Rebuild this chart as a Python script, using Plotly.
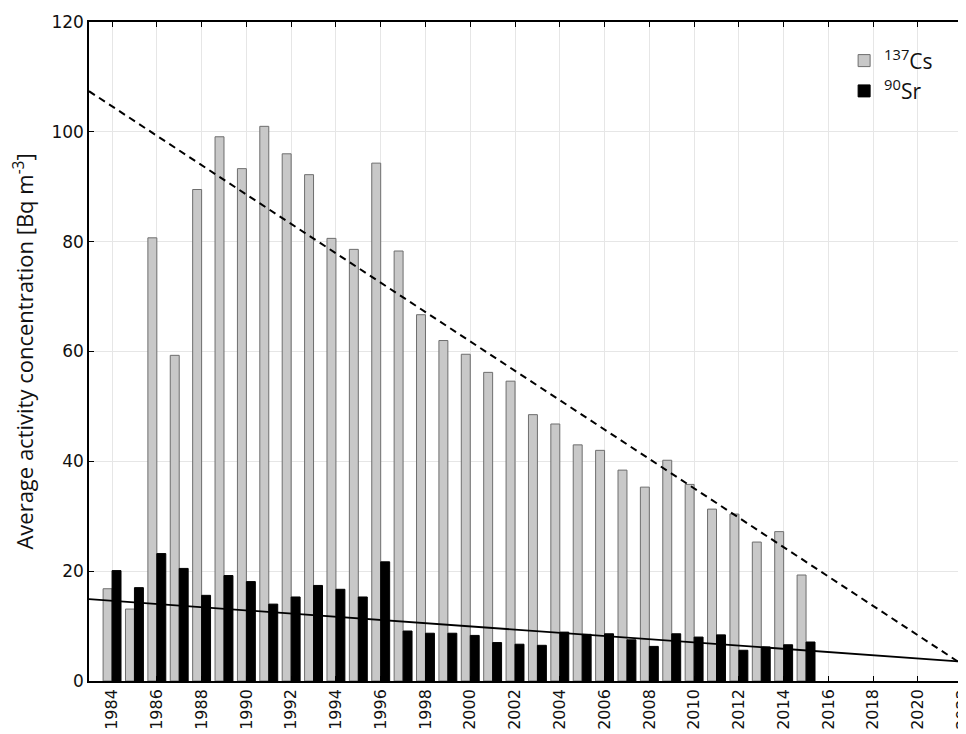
import plotly.graph_objects as go

years = list(range(1984, 2016))
cs137 = [16.8, 13.1, 80.7, 59.3, 89.5, 99.1, 93.3, 101.0, 96.0, 92.2, 80.6, 78.6,
         94.3, 78.3, 66.7, 62.0, 59.5, 56.2, 54.6, 48.5, 46.8, 43.0, 42.0, 38.4,
         35.3, 40.2, 35.8, 31.3, 30.4, 25.3, 27.2, 19.3]
sr90 = [20.1, 17.0, 23.2, 20.5, 15.6, 19.2, 18.1, 14.0, 15.3, 17.4, 16.7, 15.3,
        21.7, 9.1, 8.7, 8.7, 8.3, 7.0, 6.7, 6.5, 8.9, 8.5, 8.6, 7.5,
        6.3, 8.6, 8.0, 8.4, 5.6, 6.2, 6.6, 7.1]

trend_years = [1982.97, 2022.1]
cs_trend = [107.4, 2.7]
sr_trend = [14.9, 3.5]

tick_years = list(range(1984, 2023, 2))

fig = go.Figure()
fig.add_trace(go.Bar(x=years, y=cs137, name="<sup>137</sup>Cs",
                     marker=dict(color="#c8c8c8", line=dict(color="#6e6e6e", width=1))))
fig.add_trace(go.Bar(x=years, y=sr90, name="<sup>90</sup>Sr",
                     marker=dict(color="#000000", line=dict(color="#000000", width=1))))
fig.add_trace(go.Scatter(x=trend_years, y=cs_trend, mode="lines", showlegend=False,
                         line=dict(color="black", width=2, dash="7px,5px")))
fig.add_trace(go.Scatter(x=trend_years, y=sr_trend, mode="lines", showlegend=False,
                         line=dict(color="black", width=1.8)))

# page body has an 8px margin, so the figure is 8px smaller on each axis
fig.update_layout(
    width=958, height=726,
    margin=dict(l=81, r=1, t=14, b=53, autoexpand=False),
    paper_bgcolor="white", plot_bgcolor="white",
    barmode="group", bargap=0.2, bargroupgap=0.0,
    font=dict(family="DejaVu Sans", color="#111111", size=16),
    legend=dict(x=0.862, y=0.972, xanchor="left", yanchor="top",
                font=dict(size=21, family="Open Sans"), bgcolor="rgba(0,0,0,0)",
                tracegroupgap=0, itemwidth=30),
)
fig.update_xaxes(range=trend_years, tickmode="array", tickvals=tick_years,
                 ticktext=[str(t) for t in tick_years], tickangle=-90,
                 ticklabeloverflow="allow",
                 showgrid=True, gridcolor="#e6e6e6", gridwidth=1,
                 showline=True, linecolor="black", linewidth=1.5, mirror="ticks",
                 ticks="inside", ticklen=5, tickcolor="black",
                 tickfont=dict(size=16), zeroline=False)
fig.update_yaxes(range=[0, 120], tickmode="array", tickvals=[0, 20, 40, 60, 80, 100, 120],
                 showgrid=True, gridcolor="#e6e6e6", gridwidth=1,
                 showline=True, linecolor="black", linewidth=1.5, mirror="ticks",
                 ticks="inside", ticklen=5, tickcolor="black",
                 tickfont=dict(size=17), zeroline=False,
                 title=dict(text="Average activity concentration [Bq m<sup>-3</sup>]",
                            font=dict(size=22, family="Open Sans"),
                            standoff=16))

fig.write_html("out.html")
